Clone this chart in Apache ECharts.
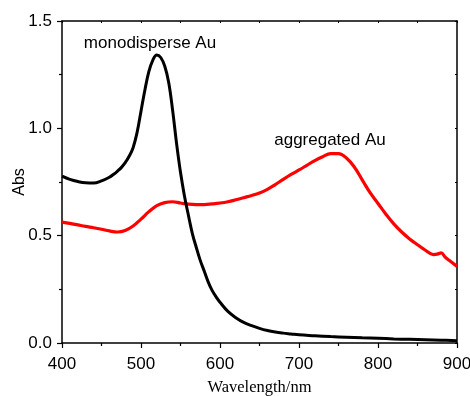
<!DOCTYPE html>
<html>
<head>
<meta charset="utf-8">
<script src="https://cdn.jsdelivr.net/npm/echarts@6/dist/echarts.min.js"></script>
<style>
html,body{margin:0;padding:0;background:#fff;}
#chart{width:470px;height:396px;}
</style>
</head>
<body>
<div id="chart"></div>
<script>
// Data
var monoWavelength = [400,410,420,430,440,450,460,465,470,475,480,485,490,495,500,505,510,515,520,525,530,535,540,545,550,555,560,565,570,575,580,585,590,595,600,610,620,630,640,650,660,670,680,690,700,720,740,760,780,800,820,840,860,880,900];
var monoAbs = [0.777,0.762,0.752,0.746,0.745,0.755,0.772,0.785,0.800,0.817,0.840,0.870,0.910,0.980,1.080,1.180,1.265,1.318,1.342,1.330,1.290,1.215,1.085,0.930,0.795,0.685,0.595,0.510,0.445,0.385,0.335,0.285,0.245,0.215,0.190,0.147,0.118,0.096,0.081,0.068,0.058,0.051,0.046,0.042,0.038,0.034,0.030,0.027,0.024,0.022,0.019,0.017,0.015,0.013,0.011];
var aggWavelength = [400,410,420,430,440,450,460,470,480,490,500,510,520,530,540,550,560,570,580,590,600,610,620,630,640,650,660,670,680,690,700,710,720,730,740,750,760,770,780,790,800,810,820,830,840,850,860,870,875,880,885,890,900];
var aggAbs = [0.563,0.557,0.550,0.543,0.537,0.530,0.522,0.517,0.524,0.545,0.577,0.612,0.640,0.654,0.658,0.652,0.647,0.645,0.645,0.648,0.652,0.658,0.667,0.677,0.687,0.699,0.716,0.738,0.762,0.785,0.806,0.828,0.850,0.868,0.882,0.882,0.862,0.820,0.760,0.700,0.650,0.600,0.555,0.517,0.485,0.458,0.432,0.412,0.414,0.420,0.400,0.385,0.357];
var xTicks = [400,500,600,700,800,900];
var yTicks = [0.0,0.5,1.0,1.5];
var seriesNames = ['monodisperse Au','aggregated Au'];
var xName = 'Wavelength/nm';
var yName = 'Abs';

function zip(xs, ys){ return xs.map(function(x,i){ return [x, ys[i]]; }); }

var chart = echarts.init(document.getElementById('chart'), null, {renderer:'canvas'});
var labelFont = {color:'#000', fontSize:17, fontFamily:'"Liberation Sans", Arial, sans-serif'};
var option = {
  animation:false,
  backgroundColor:'#fff',
  grid:{left:62, right:13, top:21, bottom:53, containLabel:false, outerBoundsMode:'none'},
  xAxis:[{
    type:'value', min:400, max:900, interval:100,
    name:xName, nameLocation:'middle', nameGap:36, nameMoveOverlap:false,
    nameTextStyle:{color:'#000', fontSize:16.5, fontFamily:'"Liberation Serif","Times New Roman",serif'},
    axisLine:{show:true, onZero:false, lineStyle:{color:'#000', width:1.5}},
    axisTick:{show:true, inside:false, length:5, lineStyle:{color:'#000', width:1.2}},
    minorTick:{show:true, splitNumber:2, length:3, lineStyle:{color:'#000', width:1.2}},
    axisLabel:Object.assign({margin:13, formatter:function(v){return xTicks.indexOf(v)>=0? String(v):'';}}, labelFont),
    splitLine:{show:false}
  },{
    type:'value', position:'top', min:400, max:900, interval:100,
    axisLine:{show:true, onZero:false, lineStyle:{color:'#000', width:1.5}},
    axisTick:{show:true, inside:true, length:2, lineStyle:{color:'#000', width:1}},
    minorTick:{show:true, splitNumber:2, length:2, lineStyle:{color:'#000', width:1}},
    axisLabel:{show:false}, splitLine:{show:false}
  }],
  yAxis:[{
    type:'value', min:0, max:1.5, interval:0.5,
    name:yName, nameLocation:'middle', nameGap:34, nameMoveOverlap:false,
    nameTextStyle:{color:'#000', fontSize:16, fontFamily:'"Liberation Sans", Arial, sans-serif'},
    axisLine:{show:true, onZero:false, lineStyle:{color:'#000', width:1.5}},
    axisTick:{show:true, inside:false, length:5, lineStyle:{color:'#000', width:1.2}},
    minorTick:{show:true, splitNumber:2, length:3, lineStyle:{color:'#000', width:1.2}},
    axisLabel:Object.assign({margin:10, formatter:function(v){return v.toFixed(1);}}, labelFont),
    splitLine:{show:false}
  },{
    type:'value', position:'right', min:0, max:1.5, interval:0.5,
    axisLine:{show:true, onZero:false, lineStyle:{color:'#000', width:1.5}},
    axisTick:{show:true, inside:true, length:2, lineStyle:{color:'#000', width:1}},
    minorTick:{show:true, splitNumber:2, length:2, lineStyle:{color:'#000', width:1}},
    axisLabel:{show:false}, splitLine:{show:false}
  }],
  series:[{
    name:seriesNames[0], type:'line', data:zip(monoWavelength, monoAbs),
    smooth:0.4, showSymbol:false, symbol:'none',
    lineStyle:{color:'#000', width:3}, z:3
  },{
    name:seriesNames[1], type:'line', data:zip(aggWavelength, aggAbs),
    smooth:0.4, showSymbol:false, symbol:'none',
    lineStyle:{color:'#ff0000', width:3.2}, z:2
  }],
  graphic:[{
    type:'text', x:150, y:43,
    style:{text:seriesNames[0], align:'center', verticalAlign:'middle', fill:'#000', fontSize:17, fontFamily:'"Liberation Sans", Arial, sans-serif'}
  },{
    type:'text', x:330, y:140,
    style:{text:seriesNames[1], align:'center', verticalAlign:'middle', fill:'#000', fontSize:17, fontFamily:'"Liberation Sans", Arial, sans-serif'}
  }]
};
chart.setOption(option);
</script>
</body>
</html>
